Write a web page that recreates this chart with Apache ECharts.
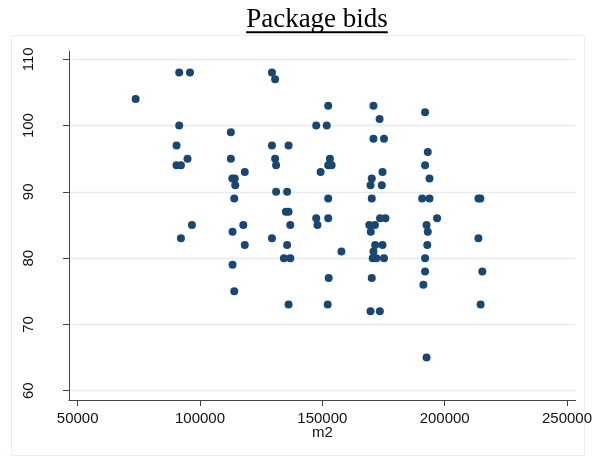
<!DOCTYPE html>
<html>
<head>
<meta charset="utf-8">
<script src="https://cdn.jsdelivr.net/npm/echarts@6/dist/echarts.min.js"></script>
<style>
  html, body { margin: 0; padding: 0; background: #ffffff; }
  #chart { width: 595px; height: 457px; }
</style>
</head>
<body>
<div id="chart"></div>
<script>
// Package size (m2) and the bid placed on each package
const m2 = [
  73700, 91500, 95900, 91500, 90400, 90400, 92200, 94900, 92200, 96700,
  112600, 112600, 113200, 114200, 114400, 118300, 114000, 113300, 117700, 118300,
  113300, 114000, 129400, 130700, 129400, 136200, 130700, 131100, 131100, 135600,
  129400, 135100, 136200, 136900, 135600, 134300, 136900, 136200, 152400, 147500,
  151800, 153100, 152400, 153800, 149300, 152400, 147500, 148000, 152400, 152600,
  152200, 157800, 170900, 173400, 170900, 175200, 174600, 170200, 169700, 174300,
  170200, 173600, 175800, 169200, 171500, 169800, 171600, 174600, 170900, 170600,
  172100, 175200, 170200, 169700, 173500, 192000, 193100, 192000, 193800, 190800,
  193800, 196900, 192600, 193100, 192900, 192000, 192000, 191300, 192600, 213800,
  214600, 213800, 215400, 214700
];
const bids = [
  104, 108, 108, 100, 97, 94, 94, 95, 83, 85,
  99, 95, 92, 92, 91, 93, 89, 84, 85, 82,
  79, 75, 108, 107, 97, 97, 95, 94, 90, 90,
  83, 87, 87, 85, 82, 80, 80, 73, 103, 100,
  100, 95, 94, 94, 93, 89, 86, 85, 86, 77,
  73, 81, 103, 101, 98, 98, 93, 92, 91, 91,
  89, 86, 86, 85, 85, 84, 82, 82, 81, 80,
  80, 80, 77, 72, 72, 102, 96, 94, 92, 89,
  89, 86, 85, 84, 82, 80, 78, 76, 65, 89,
  89, 83, 78, 73
];

const xTicks = [50000, 100000, 150000, 200000, 250000];
const yTicks = [60, 70, 80, 90, 100, 110];

const titleText = 'Package bids';
const titleFont = '27px "Liberation Serif", "Times New Roman", serif';
const titleCenterX = 317;

// Width of the title, for the underline
const measureCtx = document.createElement('canvas').getContext('2d');
measureCtx.font = titleFont;
const titleWidth = measureCtx.measureText(titleText).width;

const navy = '#1a476f';
const gridColor = '#e4ecee';
const axisColor = '#444444';
const labelFont = { fontFamily: '"Liberation Sans", Arial, sans-serif', fontSize: 15, color: '#111111' };
const plainNumber = (v) => String(Math.round(v));

const points = m2.map((v, i) => [v, bids[i]]);

const chart = echarts.init(document.getElementById('chart'), null, { renderer: 'canvas' });
chart.setOption({
  animation: false,
  backgroundColor: '#ffffff',
  grid: { left: 69, right: 19, top: 51, bottom: 57 },
  graphic: [
    {
      type: 'rect',
      shape: { x: 11.5, y: 35.5, width: 573, height: 420 },
      style: { fill: 'none', stroke: '#e6eef0', lineWidth: 1 },
      silent: true
    },
    {
      type: 'text',
      x: titleCenterX,
      y: 19.5,
      style: {
        text: titleText,
        font: titleFont,
        fill: '#000000',
        align: 'center',
        verticalAlign: 'middle'
      },
      silent: true
    },
    {
      type: 'line',
      shape: {
        x1: titleCenterX - titleWidth / 2, y1: 32.3,
        x2: titleCenterX + titleWidth / 2, y2: 32.3
      },
      style: { stroke: '#000000', lineWidth: 2 },
      silent: true
    }
  ],
  xAxis: {
    type: 'value',
    min: 46446,
    max: 253554,
    name: 'm2',
    nameLocation: 'middle',
    nameGap: 25,
    nameMoveOverlap: false,
    nameTextStyle: labelFont,
    axisLine: { show: true, onZero: false, lineStyle: { color: axisColor, width: 1 } },
    axisTick: { show: true, length: 6, customValues: xTicks, lineStyle: { color: axisColor } },
    axisLabel: { customValues: xTicks, margin: 11, formatter: plainNumber, ...labelFont },
    splitLine: { show: false }
  },
  yAxis: {
    type: 'value',
    min: 58.6,
    max: 111.25,
    axisLine: { show: true, onZero: false, lineStyle: { color: axisColor, width: 1 } },
    axisTick: { show: true, length: 6, customValues: yTicks, lineStyle: { color: axisColor } },
    axisLabel: { customValues: yTicks, rotate: 90, margin: 33, formatter: plainNumber, ...labelFont },
    splitLine: { show: true, lineStyle: { color: gridColor, width: 1.3 } }
  },
  series: [
    {
      type: 'scatter',
      data: points,
      symbol: 'circle',
      symbolSize: 8,
      itemStyle: { color: navy, opacity: 1 },
      silent: true
    }
  ]
});
</script>
</body>
</html>
